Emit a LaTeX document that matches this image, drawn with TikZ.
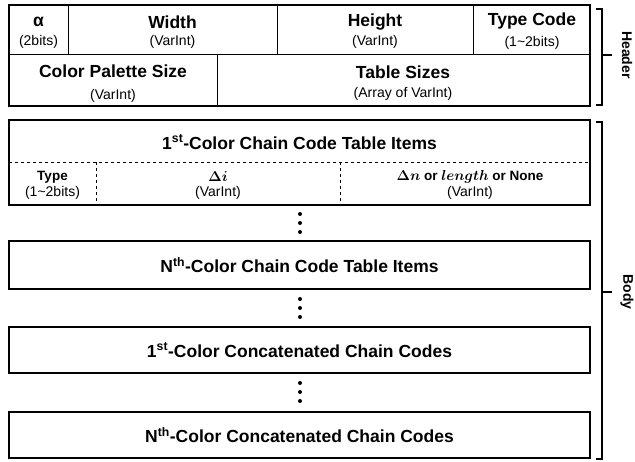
\documentclass[tikz,border=0pt]{standalone}
\usepackage{bm}
\usepackage{fontspec}
\setmainfont{Liberation Sans}
\usetikzlibrary{positioning}

\begin{document}
\begin{tikzpicture}[x=1pt, y=-1pt,
    celltitle/.style={font=\fontsize{17.5}{19}\selectfont\bfseries, inner sep=0pt},
    cellsub/.style={font=\fontsize{14}{16}\selectfont, inner sep=0pt},
    smalltitle/.style={font=\fontsize{13.5}{15}\selectfont\bfseries, inner sep=0pt},
    sidelabel/.style={font=\fontsize{14}{16}\selectfont\bfseries, rotate=-90, inner sep=0pt},
    outer/.style={line width=1.7pt},
    inner/.style={line width=0.9pt},
    dots/.style={fill=black},
    brace/.style={line width=1.5pt}]

    \useasboundingbox (0,0) rectangle (635,462);

    % Intestazione
    \draw[outer] (9,5) rectangle (590,106);
    \draw[inner] (9,54) -- (590,54);
    \draw[inner] (68,5) -- (68,54);
    \draw[inner] (277,5) -- (277,54);
    \draw[inner] (473,5) -- (473,54);
    \draw[inner] (217,54) -- (217,106);

    \node[celltitle] (alpha) at (38.5,22) {α};
    \node[cellsub] (alphasub) at (38.5,42) {(2bits)};
    \node[celltitle] (width) at (172.5,22) {Width};
    \node[cellsub] (widthsub) at (172.5,42) {(VarInt)};
    \node[celltitle] (height) at (375,22) {Height};
    \node[cellsub] (heightsub) at (375,42) {(VarInt)};
    \node[celltitle] (typecode) at (532,21) {Type Code};
    \node[cellsub] (typecodesub) at (532,43) {(1\textasciitilde 2bits)};
    \node[celltitle] (palette) at (113,71) {Color Palette Size};
    \node[cellsub] (palettesub) at (113,96) {(VarInt)};
    \node[celltitle] (tables) at (403,72) {Table Sizes};
    \node[cellsub] (tablessub) at (403,94) {(Array of VarInt)};

    % Corpo: tabella del primo colore
    \draw[outer] (9,120) rectangle (590,205);
    \draw[inner, dashed] (9,162) -- (590,162);
    \draw[inner, dashed] (96,162) -- (96,205);
    \draw[inner, dashed] (340,162) -- (340,205);

    \node[celltitle] (firsttable) at (299.5,142) {1\textsuperscript{st}-Color Chain Code Table Items};
    \node[smalltitle] (type) at (52.5,177) {Type};
    \node[cellsub] (typesub) at (52.5,193) {(1\textasciitilde 2bits)};
    \node[smalltitle] (deltai) at (218,177) {$\bm{\Delta i}$};
    \node[cellsub] (deltaisub) at (218,193) {(VarInt)};
    \node[smalltitle] (deltan) at (470,177) {$\bm{\Delta n}$ or $\bm{length}$ or None};
    \node[cellsub] (deltansub) at (470,193) {(VarInt)};

    % Corpo: altri blocchi
    \draw[outer] (9,241) rectangle (590,289);
    \node[celltitle] (lasttable) at (299.5,265) {N\textsuperscript{th}-Color Chain Code Table Items};
    \draw[outer] (9,327) rectangle (590,373);
    \node[celltitle] (firstcodes) at (299.5,350) {1\textsuperscript{st}-Color Concatenated Chain Codes};
    \draw[outer] (9,412) rectangle (590,458);
    \node[celltitle] (lastcodes) at (299.5,435) {N\textsuperscript{th}-Color Concatenated Chain Codes};

    % Puntini
    \foreach \y in {223,308,392} {
        \fill[dots] (300,\y-9) circle (2pt);
        \fill[dots] (300,\y) circle (2pt);
        \fill[dots] (300,\y+9) circle (2pt);
    }

    % Parentesi
    \coordinate (htop) at (596,9);
    \coordinate (hbot) at (596,105);
    \coordinate (htick) at (602,55);
    \draw[brace] (htop) -- (602,9) -- (602,105) -- (hbot);
    \draw[brace] (htick) -- ++(10,0);
    \node[sidelabel] (header) at (627,55) {Header};

    \coordinate (btop) at (596,122);
    \coordinate (bbot) at (596,459);
    \coordinate (btick) at (602,292);
    \draw[brace] (btop) -- (602,122) -- (602,459) -- (bbot);
    \draw[brace] (btick) -- ++(10,0);
    \node[sidelabel] (body) at (627,292) {Body};

\end{tikzpicture}
\end{document}
